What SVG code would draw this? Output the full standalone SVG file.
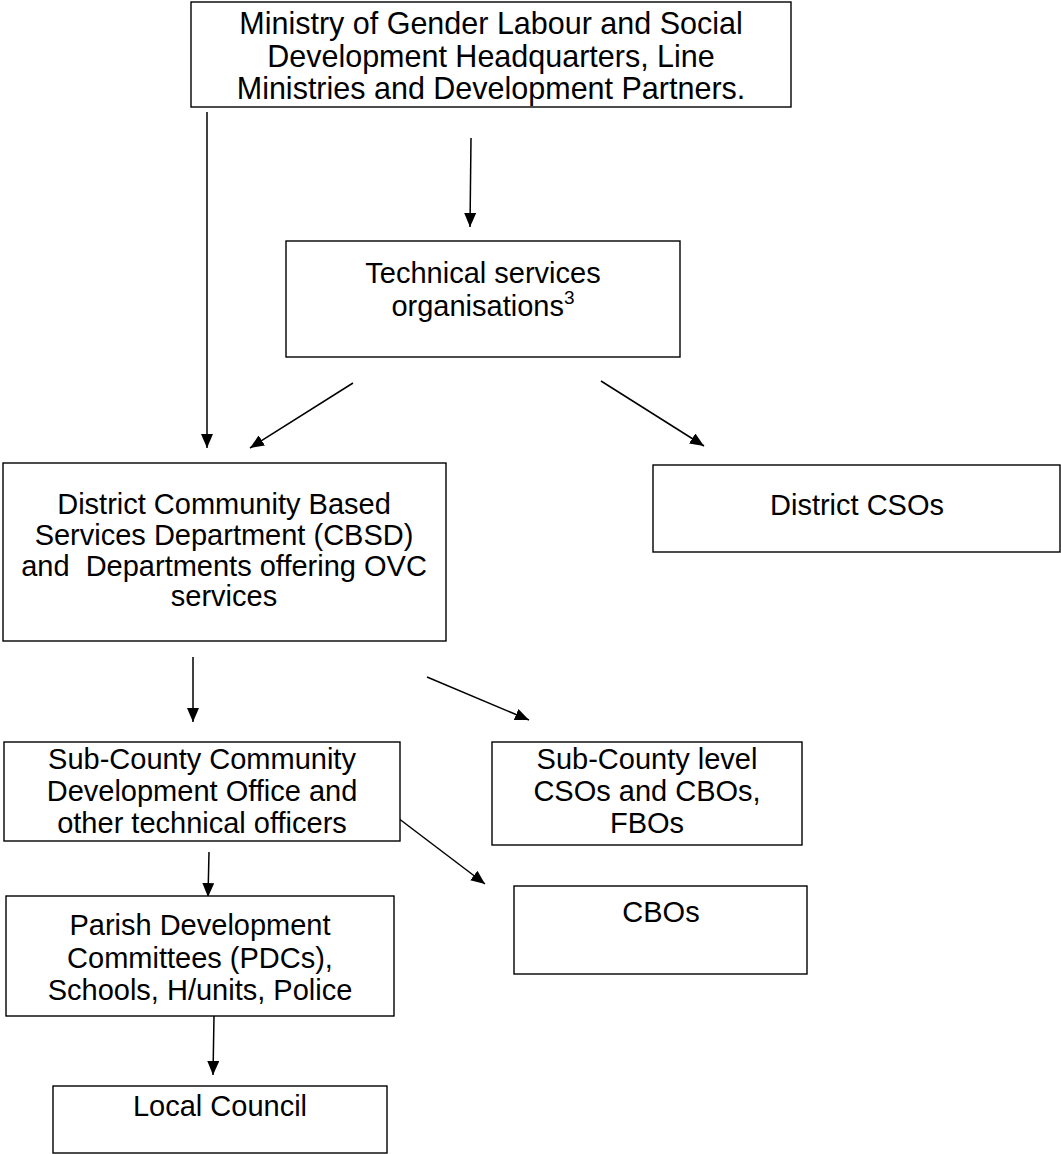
<svg xmlns="http://www.w3.org/2000/svg" width="1061" height="1154" viewBox="0 0 1061 1154">
<defs>
<style>
.box{fill:#fff;stroke:#000;stroke-width:1.4}
.t{font-family:"Liberation Sans",Arial,sans-serif;font-size:29px;fill:#000;text-anchor:middle}
.big{font-size:30.5px}
.sup{font-size:19px}
.c{stroke:#000;stroke-width:1.5;fill:none;marker-end:url(#ah)}
</style>
<marker id="ah" viewBox="0 0 14 12" refX="14" refY="6" markerWidth="14" markerHeight="12" markerUnits="userSpaceOnUse" orient="auto">
<path d="M0,0 L14,6 L0,12 Z" fill="#000"/>
</marker>
</defs>
<rect width="1061" height="1154" fill="#fff"/>
<g id="connectors">
<line class="c" x1="207" y1="112" x2="207" y2="448"/>
<line class="c" x1="471" y1="138" x2="470" y2="227"/>
<line class="c" x1="353" y1="383" x2="250" y2="448"/>
<line class="c" x1="601" y1="381" x2="704" y2="446"/>
<line class="c" x1="193" y1="657" x2="193" y2="722"/>
<line class="c" x1="427" y1="677" x2="529" y2="720"/>
<line class="c" x1="398" y1="818" x2="485" y2="884"/>
<line class="c" x1="209" y1="852" x2="208" y2="897"/>
<line class="c" x1="214" y1="1016" x2="213" y2="1075"/>
</g>
<g id="ministry">
<rect class="box" x="191" y="2" width="600" height="105"/>
<text class="t big" x="491" y="34">Ministry of Gender Labour and Social</text>
<text class="t big" x="491" y="67">Development Headquarters, Line</text>
<text class="t big" x="491" y="99">Ministries and Development Partners.</text>
</g>
<g id="technical">
<rect class="box" x="286" y="241" width="394" height="116"/>
<text class="t" x="483" y="283">Technical services</text>
<text class="t" x="483" y="316">organisations<tspan class="sup" dy="-12">3</tspan></text>
</g>
<g id="cbsd">
<rect class="box" x="3" y="463" width="443" height="178"/>
<text class="t" x="224" y="514">District Community Based</text>
<text class="t" x="224" y="545">Services Department (CBSD)</text>
<text class="t" x="224" y="576" xml:space="preserve">and  Departments offering OVC</text>
<text class="t" x="224" y="606">services</text>
</g>
<g id="district-csos">
<rect class="box" x="653" y="465" width="407" height="87"/>
<text class="t" x="857" y="515">District CSOs</text>
</g>
<g id="subcounty">
<rect class="box" x="4" y="742" width="396" height="99"/>
<text class="t" x="202" y="769">Sub-County Community</text>
<text class="t" x="202" y="801">Development Office and</text>
<text class="t" x="202" y="833">other technical officers</text>
</g>
<g id="subcounty-cso">
<rect class="box" x="492" y="742" width="310" height="103"/>
<text class="t" x="647" y="769">Sub-County level</text>
<text class="t" x="647" y="801">CSOs and CBOs,</text>
<text class="t" x="647" y="833">FBOs</text>
</g>
<g id="cbos">
<rect class="box" x="514" y="886" width="293" height="88"/>
<text class="t" x="661" y="922">CBOs</text>
</g>
<g id="parish">
<rect class="box" x="6" y="896" width="388" height="120"/>
<text class="t" x="200" y="935">Parish Development</text>
<text class="t" x="200" y="968">Committees (PDCs),</text>
<text class="t" x="200" y="1000">Schools, H/units, Police</text>
</g>
<g id="local-council">
<rect class="box" x="53" y="1086" width="334" height="67"/>
<text class="t" x="220" y="1116">Local Council</text>
</g>
</svg>
